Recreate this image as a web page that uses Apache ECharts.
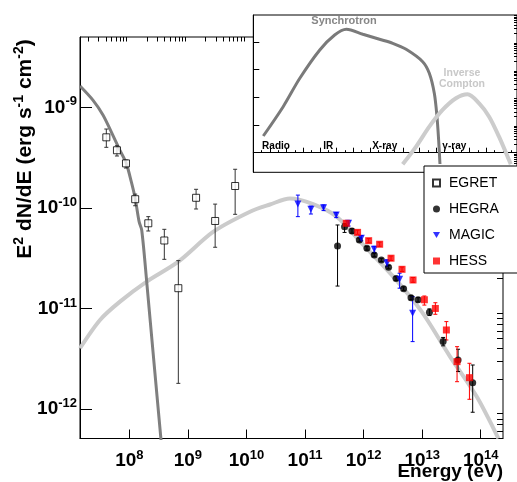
<!DOCTYPE html>
<html><head><meta charset="utf-8">
<script src="https://cdn.jsdelivr.net/npm/echarts@6/dist/echarts.min.js"></script>
<style>html,body{margin:0;padding:0;background:#fff}#c{width:517px;height:482px}</style>
</head><body><div id="c"></div>
<script>
// ---------- main plot data: energy (eV) vs E^2 dN/dE (erg s^-1 cm^-2) ----------
const syncTailE = [1.44e7, 2.39e7, 3.55e7, 4.92e7, 6.85e7, 8.87e7, 1.08e8, 1.26e8, 1.47e8, 1.63e8, 1.98e8, 2.64e8, 3.48e8];
const syncTailF = [1.63e-9, 1.18e-9, 8.4e-10, 5.7e-10, 3.77e-10, 2.77e-10, 1.82e-10, 1.24e-10, 7.3e-11, 6.0e-11, 1.85e-11, 2.87e-12, 4.9e-13];

const icModelE = [1.44e7, 3.16e7, 6.93e7, 1.98e8, 6.87e8, 2.73e9, 1.15e10, 2.52e10, 5.53e10, 1.37e11, 3.48e11, 9.91e11, 3.21e12, 9.82e12, 2.99e13, 8.53e13, 2.0e14];
const icModelF = [4.02e-12, 7.69e-12, 1.17e-11, 1.85e-11, 2.92e-11, 5.80e-11, 9.16e-11, 1.08e-10, 1.24e-10, 1.09e-10, 8.17e-11, 4.28e-11, 2.07e-11, 9.29e-12, 3.32e-12, 1.33e-12, 5.1e-13];

const egretE  = [4.05e7, 6.15e7, 8.77e7, 1.26e8, 2.11e8, 3.96e8, 6.87e8, 1.38e9, 2.92e9, 6.41e9];
const egretF  = [5.03e-10, 3.74e-10, 2.77e-10, 1.22e-10, 7.03e-11, 4.74e-11, 1.59e-11, 1.26e-10, 7.41e-11, 1.65e-10];
const egretLo = [4.0e-10, 3.28e-10, 2.49e-10, 1.05e-10, 5.89e-11, 3.08e-11, 1.80e-12, 9.75e-11, 4.06e-11, 8.63e-11];
const egretHi = [6.08e-10, 4.15e-10, 2.99e-10, 1.37e-10, 8.18e-11, 6.12e-11, 2.99e-11, 1.53e-10, 1.09e-10, 2.42e-10];

const hegraE  = [3.59e11, 4.73e11, 6.33e11, 8.44e11, 1.14e12, 1.52e12, 2.01e12, 2.67e12, 3.58e12, 4.82e12, 6.45e12, 8.51e12, 1.33e13, 2.28e13, 4.10e13, 7.29e13];
const hegraF  = [4.18e-11, 6.50e-11, 5.89e-11, 4.80e-11, 3.96e-11, 3.40e-11, 3.03e-11, 2.57e-11, 1.98e-11, 1.57e-11, 1.28e-11, 1.22e-11, 9.16e-12, 4.68e-12, 3.08e-12, 1.83e-12];
const hegraLo = [1.67e-11, 5.7e-11, 5.6e-11, 4.6e-11, 3.8e-11, 3.27e-11, 2.92e-11, 2.48e-11, 1.90e-11, 1.51e-11, 1.22e-11, 1.16e-11, 8.5e-12, 4.25e-12, 2.36e-12, 9.29e-13];
const hegraHi = [6.76e-11, 7.0e-11, 6.2e-11, 5.0e-11, 4.12e-11, 3.53e-11, 3.15e-11, 2.67e-11, 2.07e-11, 1.64e-11, 1.34e-11, 1.28e-11, 9.9e-12, 5.15e-12, 3.93e-12, 2.74e-12];

const magicE  = [7.55e10, 1.26e11, 2.07e11, 3.41e11, 5.54e11, 9.13e11, 1.52e12, 2.51e12, 4.12e12, 6.87e12];
const magicF  = [1.094e-10, 9.68e-11, 1.005e-10, 8.49e-11, 7.03e-11, 4.99e-11, 3.87e-11, 2.81e-11, 1.95e-11, 8.95e-12];
const magicLo = [8.18e-11, 8.69e-11, 9.4e-11, 8.0e-11, 6.6e-11, 4.7e-11, 3.6e-11, 2.6e-11, 1.59e-11, 4.68e-12];
const magicHi = [1.34e-10, 1.04e-10, 1.07e-10, 9.0e-11, 7.5e-11, 5.3e-11, 4.15e-11, 3.05e-11, 2.24e-11, 1.31e-11];

const hessE  = [5.06e11, 7.89e11, 1.22e12, 1.88e12, 2.94e12, 4.53e12, 6.98e12, 1.09e13, 1.68e13, 2.59e13, 3.94e13, 6.41e13];
const hessF  = [7.03e-11, 5.71e-11, 4.72e-11, 4.35e-11, 3.16e-11, 2.45e-11, 1.92e-11, 1.22e-11, 1.00e-11, 6.11e-12, 2.96e-12, 2.05e-12];
const hessLo = [6.7e-11, 5.45e-11, 4.5e-11, 4.15e-11, 3.0e-11, 2.33e-11, 1.82e-11, 1.08e-11, 8.75e-12, 4.86e-12, 1.87e-12, 1.25e-12];
const hessHi = [7.4e-11, 6.0e-11, 4.95e-11, 4.56e-11, 3.32e-11, 2.58e-11, 2.03e-11, 1.33e-11, 1.14e-11, 7.40e-12, 4.17e-12, 2.85e-12];

// tick labels (powers of ten)
const xTickExps = [8, 9, 10, 11, 12, 13, 14];
const yTickExps = [-12, -11, -10, -9];

// ---------- inset (schematic SED) ----------
const insetSyncX = [1.20, 3.59, 5.59, 7.99, 9.78, 11.19, 13.17, 15.17, 16.77, 18.37, 20.36, 21.16, 21.76, 22.08, 22.28, 22.44];
const insetSyncY = [4.0, 45.8, 485, 5100, 17700, 28500, 18800, 12400, 8900, 5400, 1930, 735, 139, 20, 2.87, 0.39];
const insetIcX = [17.96, 19.57, 21.16, 22.75, 24.36, 25.75, 27.15, 28.35, 29.54, 30.95];
const insetIcY = [0.38, 1.65, 8.7, 34.8, 92, 128, 60.7, 20, 3.78, 0.38];
const insetBoxX = [20.36, 30.95];
const insetBoxY = [5410, 0.5];
const insetBandLabels = ['Radio', 'IR', 'X-ray', 'γ-ray'];

// ---------- helpers ----------
const L = Math.log10;
const FONT = "'Liberation Sans', Arial, Helvetica, sans-serif";
const pts = (xs, ys) => xs.map((x, i) => [L(x), L(ys[i])]);
const errs = (xs, lo, hi) => xs.map((x, i) => [L(x), L(lo[i]), L(hi[i])]);
const minorTicks = (a, b) => { const r = []; for (let n = a; n <= b; n++) for (let k = 2; k <= 9; k++) r.push(n + L(k)); return r; };

const XMIN = 7.158, XMAX = 14.380, YMIN = -12.293, YMAX = -8.301;
const IXMIN = 0, IXMAX = 31.7, IYMIN = -0.708, IYMAX = 4.971;

function errRender(color) {
  return function (params, api) {
    const x = api.value(0), lo = api.value(1), hi = api.value(2);
    const p1 = api.coord([x, lo]), p2 = api.coord([x, hi]);
    const c = 2, st = { stroke: color, lineWidth: 1 };
    return { type: 'group', children: [
      { type: 'line', shape: { x1: p1[0], y1: p1[1], x2: p2[0], y2: p2[1] }, style: st },
      { type: 'line', shape: { x1: p1[0] - c, y1: p1[1], x2: p1[0] + c, y2: p1[1] }, style: st },
      { type: 'line', shape: { x1: p2[0] - c, y1: p2[1], x2: p2[0] + c, y2: p2[1] }, style: st }
    ]};
  };
}

const richLbl = {
  b: { fontSize: 19, fontWeight: 'bold', fontFamily: FONT, color: '#000', lineHeight: 24 },
  s: { fontSize: 13, fontWeight: 'bold', fontFamily: FONT, color: '#000', lineHeight: 12, verticalAlign: 'top' }
};
const fmtPow = v => '{b|10}{s|' + Math.round(v) + '}';

const chart = echarts.init(document.getElementById('c'), null, { renderer: 'canvas' });

const SM = 0.3;
const option = {
  animation: false,
  backgroundColor: '#fff',
  grid: [
    { left: 80, top: 37, right: 14, bottom: 43.5, show: true, borderColor: '#000', borderWidth: 1, backgroundColor: 'rgba(0,0,0,0)', z: 0 },
    { left: 253.3, top: 15, right: -1, bottom: 309.7, show: true, borderColor: '#000', borderWidth: 1, backgroundColor: '#fff', z: 5 }
  ],
  xAxis: [
    { type: 'value', gridIndex: 0, min: XMIN, max: XMAX,
      axisLine: { lineStyle: { color: '#000', width: 1 } },
      axisTick: { inside: true, length: 9, customValues: xTickExps, lineStyle: { color: '#000' } },
      axisLabel: { customValues: xTickExps, margin: 10, formatter: fmtPow, rich: richLbl },
      splitLine: { show: false } },
    { type: 'value', gridIndex: 0, min: XMIN, max: XMAX,
      axisLine: { show: false },
      axisTick: { inside: true, length: 4.5, customValues: minorTicks(7, 14).filter(v => v > XMIN && v < XMAX), lineStyle: { color: '#000' } },
      axisLabel: { show: false }, splitLine: { show: false } },
    { type: 'value', gridIndex: 1, min: IXMIN, max: IXMAX, interval: 2, z: 6,
      axisLine: { lineStyle: { color: '#000', width: 1 } },
      axisTick: { inside: true, length: 5, lineStyle: { color: '#000' } },
      minorTick: { show: true, splitNumber: 2, length: 2.5, lineStyle: { color: '#000' } },
      axisLabel: { show: false }, splitLine: { show: false }, minorSplitLine: { show: false } }
  ],
  yAxis: [
    { type: 'value', gridIndex: 0, min: YMIN, max: YMAX,
      axisLine: { lineStyle: { color: '#000', width: 1 } },
      axisTick: { inside: true, length: 12, customValues: yTickExps, lineStyle: { color: '#000' } },
      axisLabel: { customValues: yTickExps, margin: 3, formatter: fmtPow, rich: richLbl },
      splitLine: { show: false } },
    { type: 'value', gridIndex: 0, min: YMIN, max: YMAX,
      axisLine: { show: false },
      axisTick: { inside: true, length: 6, customValues: minorTicks(-13, -9).filter(v => v > YMIN && v < YMAX), lineStyle: { color: '#000' } },
      axisLabel: { show: false }, splitLine: { show: false } },
    { type: 'value', gridIndex: 1, min: IYMIN, max: IYMAX, z: 6,
      axisLine: { lineStyle: { color: '#000', width: 1 } },
      axisTick: { inside: true, length: 6, customValues: [0, 1, 2, 3, 4], lineStyle: { color: '#000' } },
      axisLabel: { show: false }, splitLine: { show: false } },
    { type: 'value', gridIndex: 1, min: IYMIN, max: IYMAX, z: 6,
      axisLine: { show: false },
      axisTick: { inside: true, length: 3, customValues: minorTicks(-1, 4).filter(v => v > IYMIN && v < IYMAX), lineStyle: { color: '#000' } },
      axisLabel: { show: false }, splitLine: { show: false } }
  ],
  legend: {
    data: ['EGRET', 'HEGRA', 'MAGIC', 'HESS'],
    left: 424, top: 166, orient: 'vertical',
    itemWidth: 7, itemHeight: 7, itemGap: 10,
    padding: [9, 22, 4, 8],
    backgroundColor: '#fff', borderColor: '#000', borderWidth: 1,
    textStyle: { fontSize: 14, fontFamily: FONT, color: '#000', lineHeight: 16, padding: [0, 0, 0, 4] },
    z: 10
  },
  graphic: [
    { type: 'text', x: 25, y: 149, rotation: Math.PI / 2, z: 20,
      style: { text: '{b|E}{s|2}{b| dN/dE (erg s}{s|-1}{b| cm}{s|-2}{b|)}', align: 'center', verticalAlign: 'middle',
        rich: { b: { fontSize: 21, fontWeight: 'bold', fontFamily: FONT, fill: '#000', lineHeight: 25 },
                s: { fontSize: 14, fontWeight: 'bold', fontFamily: FONT, fill: '#000', lineHeight: 12, verticalAlign: 'top' } } } },
    { type: 'text', x: 503, y: 472, z: 20,
      style: { text: 'Energy (eV)', align: 'right', verticalAlign: 'middle', fontSize: 19, fontWeight: 'bold', fontFamily: FONT, fill: '#000' } },
    { type: 'text', x: 344, y: 21, z: 20,
      style: { text: 'Synchrotron', align: 'center', verticalAlign: 'middle', fontSize: 11, fontWeight: 'bold', fontFamily: FONT, fill: '#878787' } },
    { type: 'text', x: 462, y: 72.7, z: 20,
      style: { text: 'Inverse', align: 'center', verticalAlign: 'middle', fontSize: 10.5, fontWeight: 'bold', fontFamily: FONT, fill: '#c8c8c8' } },
    { type: 'text', x: 462, y: 84, z: 20,
      style: { text: 'Compton', align: 'center', verticalAlign: 'middle', fontSize: 10.5, fontWeight: 'bold', fontFamily: FONT, fill: '#c8c8c8' } },
    { type: 'text', x: 276, y: 146, z: 20,
      style: { text: insetBandLabels[0], align: 'center', verticalAlign: 'middle', fontSize: 10, fontWeight: 'bold', fontFamily: FONT, fill: '#000' } },
    { type: 'text', x: 328.3, y: 146, z: 20,
      style: { text: insetBandLabels[1], align: 'center', verticalAlign: 'middle', fontSize: 10, fontWeight: 'bold', fontFamily: FONT, fill: '#000' } },
    { type: 'text', x: 384.7, y: 146, z: 20,
      style: { text: insetBandLabels[2], align: 'center', verticalAlign: 'middle', fontSize: 10, fontWeight: 'bold', fontFamily: FONT, fill: '#000' } },
    { type: 'text', x: 454.3, y: 146, z: 20,
      style: { text: insetBandLabels[3], align: 'center', verticalAlign: 'middle', fontSize: 10, fontWeight: 'bold', fontFamily: FONT, fill: '#000' } }
  ],
  series: [
    { name: 'IC model', type: 'line', xAxisIndex: 0, yAxisIndex: 0, data: pts(icModelE, icModelF),
      showSymbol: false, smooth: SM, lineStyle: { color: '#cbcbcb', width: 4 }, z: 2 },
    { name: 'Sync model', type: 'line', xAxisIndex: 0, yAxisIndex: 0, data: pts(syncTailE, syncTailF),
      showSymbol: false, smooth: SM, lineStyle: { color: '#7f7f7f', width: 3 }, z: 2 },
    { name: 'EGRET err', type: 'custom', xAxisIndex: 0, yAxisIndex: 0, renderItem: errRender('#333'),
      data: errs(egretE, egretLo, egretHi), encode: { x: 0, y: [1, 2] }, clip: true, z: 3 },
    { name: 'EGRET', type: 'scatter', xAxisIndex: 0, yAxisIndex: 0, data: pts(egretE, egretF),
      symbol: 'rect', symbolSize: 7, itemStyle: { color: '#fff', borderColor: '#000', borderWidth: 1 }, z: 4 },
    { name: 'HEGRA err', type: 'custom', xAxisIndex: 0, yAxisIndex: 0, renderItem: errRender('#000'),
      data: errs(hegraE, hegraLo, hegraHi), encode: { x: 0, y: [1, 2] }, clip: true, z: 3 },
    { name: 'HEGRA', type: 'scatter', xAxisIndex: 0, yAxisIndex: 0, data: pts(hegraE, hegraF),
      symbol: 'circle', symbolSize: 7, itemStyle: { color: '#000' }, z: 4 },
    { name: 'MAGIC err', type: 'custom', xAxisIndex: 0, yAxisIndex: 0, renderItem: errRender('#0000ff'),
      data: errs(magicE, magicLo, magicHi), encode: { x: 0, y: [1, 2] }, clip: true, z: 3 },
    { name: 'MAGIC', type: 'scatter', xAxisIndex: 0, yAxisIndex: 0, data: pts(magicE, magicF),
      symbol: 'path://M0,0L10,0L5,8.66Z', symbolSize: 7, itemStyle: { color: '#0000ff' }, z: 4 },
    { name: 'HESS err', type: 'custom', xAxisIndex: 0, yAxisIndex: 0, renderItem: errRender('#ff0000'),
      data: errs(hessE, hessLo, hessHi), encode: { x: 0, y: [1, 2] }, clip: true, z: 3 },
    { name: 'HESS', type: 'scatter', xAxisIndex: 0, yAxisIndex: 0, data: pts(hessE, hessF),
      symbol: 'rect', symbolSize: 7, itemStyle: { color: '#ff0000' }, z: 4 },
    { name: 'Synchrotron', type: 'line', xAxisIndex: 2, yAxisIndex: 2,
      data: insetSyncX.map((x, i) => [x, L(insetSyncY[i])]),
      showSymbol: false, smooth: SM, lineStyle: { color: '#7a7a7a', width: 3 }, z: 6 },
    { name: 'Inverse Compton', type: 'line', xAxisIndex: 2, yAxisIndex: 2,
      data: insetIcX.map((x, i) => [x, L(insetIcY[i])]),
      showSymbol: false, smooth: SM, lineStyle: { color: '#cccccc', width: 4 }, z: 6,
      markArea: { silent: true, label: { show: false },
        itemStyle: { color: 'rgba(0,0,0,0)', borderColor: '#000', borderWidth: 1, borderType: 'dotted' },
        data: [[{ coord: [insetBoxX[0], L(insetBoxY[0])] }, { coord: [insetBoxX[1], L(insetBoxY[1])] }]] } }
  ]
};
chart.setOption(option);
</script>
</body></html>
